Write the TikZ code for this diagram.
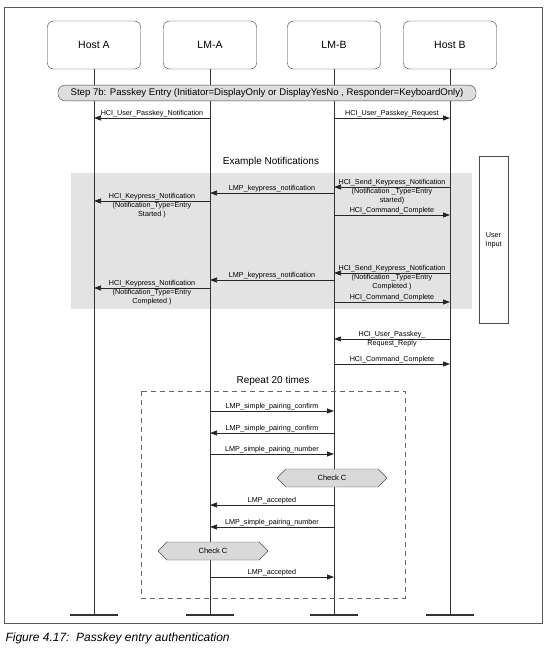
\documentclass[tikz,border=0pt]{standalone}
\usepackage{fontspec}
\setmainfont{Liberation Sans}
\usetikzlibrary{arrows.meta,shapes.symbols}
\tikzstyle{entity}=[draw=black!80,rounded corners=6pt,minimum width=93pt,minimum height=48pt,font=\fontsize{10.5}{12}\selectfont]
\tikzstyle{life}=[draw=black!80,line width=1pt]
\tikzstyle{foot}=[draw=black!80,line width=2.4pt]
\tikzstyle{msg}=[draw=black!85,line width=0.75pt,-{Triangle[length=7pt,width=5pt]}]
\tikzstyle{lbl}=[font=\fontsize{7.2}{8.6}\selectfont,inner sep=1pt,align=center]
\tikzstyle{title}=[font=\fontsize{10}{12}\selectfont]
\tikzstyle{check}=[signal,signal to=east and west,draw=black!70,fill=black!15,minimum width=110pt,minimum height=18pt,inner sep=0pt,font=\fontsize{7.5}{9}\selectfont]

\begin{document}
\begin{tikzpicture}[x=1pt,y=-1pt]
\useasboundingbox (0,0) rectangle (554,648);
\draw[black!65,line width=0.8pt] (4,7) rectangle (542,623);
% shaded part
\fill[black!11] (71,173) rectangle (472,309);
\node[entity] (HA) at (94,45) {Host A};
\node[entity] (LA) at (210,45) {LM-A};
\node[entity] (LB) at (334,45) {LM-B};
\node[entity] (HB) at (450,45) {Host B};
\foreach \n in {HA,LA,LB,HB} {
  \coordinate (\n end) at (\n |- 0,615);
  \draw[life] (\n.south) -- (\n end);
  \draw[foot] ([xshift=-24pt]\n end) -- ([xshift=24pt]\n end);
}
\node[draw=black!75,fill=black!13,rounded corners=7pt,minimum height=15pt,minimum width=418pt,inner xsep=3pt,font=\fontsize{9.6}{11}\selectfont] (step) at (267,93) {Step 7b: Passkey Entry (Initiator=DisplayOnly or DisplayYesNo , Responder=KeyboardOnly)};
\draw[msg] (LA |- 0,118) -- node[lbl,above]{HCI\_User\_Passkey\_Notification} (HA |- 0,118);
\draw[msg] (LB |- 0,118) -- node[lbl,above]{HCI\_User\_Passkey\_Request} (HB |- 0,118);
\node[title] (ex) at (271,162) {Example Notifications};
\node[draw=black!70,fill=white,minimum width=29pt,minimum height=167pt,align=center,font=\fontsize{7.2}{8.6}\selectfont] (UI) at (493.5,240) {User\\Input};
% entry started
\draw[msg] (HB |- 0,187) -- node[lbl,above]{HCI\_Send\_Keypress\_Notification} node[lbl,below]{(Notification \_Type=Entry\\started)} (LB |- 0,187);
\draw[msg] (LB |- 0,193) -- node[lbl,above]{LMP\_keypress\_notification} (LA |- 0,193);
\draw[msg] (LA |- 0,201) -- node[lbl,above]{HCI\_Keypress\_Notification} node[lbl,below]{(Notification\_Type=Entry\\Started )} (HA |- 0,201);
\draw[msg] (LB |- 0,215) -- node[lbl,above]{HCI\_Command\_Complete} (HB |- 0,215);
% entry completed
\draw[msg] (HB |- 0,273) -- node[lbl,above]{HCI\_Send\_Keypress\_Notification} node[lbl,below]{(Notification \_Type=Entry\\Completed )} (LB |- 0,273);
\draw[msg] (LB |- 0,280) -- node[lbl,above]{LMP\_keypress\_notification} (LA |- 0,280);
\draw[msg] (LA |- 0,288) -- node[lbl,above]{HCI\_Keypress\_Notification} node[lbl,below]{(Notification\_Type=Entry\\Completed )} (HA |- 0,288);
\draw[msg] (LB |- 0,302) -- node[lbl,above]{HCI\_Command\_Complete} (HB |- 0,302);
\draw[msg] (HB |- 0,339) -- node[lbl,above]{HCI\_User\_Passkey\_} node[lbl,below]{Request\_Reply} (LB |- 0,339);
\draw[msg] (LB |- 0,364) -- node[lbl,above]{HCI\_Command\_Complete} (HB |- 0,364);
% repeat loop
\node[title] (rep) at (273,381) {Repeat 20 times};
\draw[black!60,line width=0.7pt,dash pattern=on 5pt off 4pt] (141,391) rectangle (405,598);
\draw[msg] (LA |- 0,411) -- node[lbl,above]{LMP\_simple\_pairing\_confirm} (LB |- 0,411);
\draw[msg] (LB |- 0,433) -- node[lbl,above]{LMP\_simple\_pairing\_confirm} (LA |- 0,433);
\draw[msg] (LA |- 0,454) -- node[lbl,above]{LMP\_simple\_pairing\_number} (LB |- 0,454);
\node[check] (chkB) at (332,478) {Check C};
\draw[msg] (LB |- 0,505) -- node[lbl,above]{LMP\_accepted} (LA |- 0,505);
\draw[msg] (LB |- 0,527) -- node[lbl,above]{LMP\_simple\_pairing\_number} (LA |- 0,527);
\node[check] (chkA) at (213,551) {Check C};
\draw[msg] (LA |- 0,577) -- node[lbl,above]{LMP\_accepted} (LB |- 0,577);
\node[anchor=west,font=\itshape\fontsize{12}{14}\selectfont] (cap) at (2,638) {Figure 4.17:\ \ Passkey entry authentication};
\end{tikzpicture}
\end{document}
